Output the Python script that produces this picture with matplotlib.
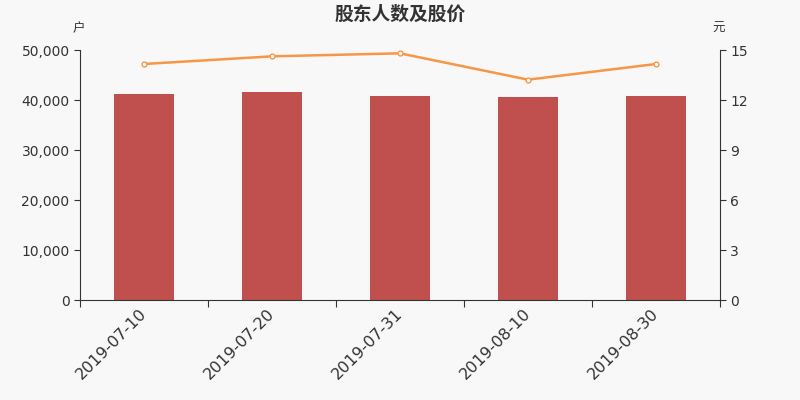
import matplotlib
matplotlib.use("Agg")
import matplotlib.pyplot as plt
import numpy as np

plt.rcParams['font.family'] = ['DejaVu Sans', 'Noto Sans CJK SC']

categories = ["2019-07-10", "2019-07-20", "2019-07-31", "2019-08-10", "2019-08-30"]
holders = [41150, 41550, 40800, 40600, 40800]
prices = [14.16, 14.62, 14.80, 13.22, 14.16]

bg = "#f8f8f8"
fig = plt.figure(figsize=(8, 4), dpi=100, facecolor=bg)
ax = fig.add_axes([0.1, 0.25, 0.8, 0.625], facecolor=bg)
x = np.arange(len(categories))
ax.bar(x, holders, width=0.47, color="#c0504d", zorder=2)
ax.set_xlim(-0.5, len(categories) - 0.5)
ax.set_ylim(0, 50000)
ax.set_yticks(np.arange(0, 50001, 10000))
ax.set_yticklabels([f"{v:,}" for v in range(0, 50001, 10000)], fontsize=10, color="#333333")
ax.set_xticks(np.arange(-0.5, len(categories)), minor=False)
ax.set_xticklabels([])
ax.set_xticks(x, minor=True)
ax.set_xticklabels(categories, minor=True, rotation=45, ha="right", va="center",
                   rotation_mode="anchor", fontsize=11.5, color="#333333")
ax.tick_params(axis="x", which="minor", length=0, pad=8)
ax.tick_params(axis="x", which="major", length=5, color="#333333")
ax.tick_params(axis="y", length=4, color="#333333")
for s in ["top", "right"]:
    ax.spines[s].set_visible(False)
for s in ["left", "bottom"]:
    ax.spines[s].set_color("#333333")

ax2 = ax.twinx()
ax2.plot(x, prices, color="#f79646", linewidth=1.8, marker="o", markersize=3.5,
         markerfacecolor="white", markeredgecolor="#f79646", markeredgewidth=1, zorder=3)
ax2.set_ylim(0, 15)
ax2.set_yticks(np.arange(0, 16, 3))
ax2.set_yticklabels([str(v) for v in range(0, 16, 3)], fontsize=10, color="#333333")
ax2.tick_params(axis="y", length=4, color="#333333")
for s in ["top", "left", "bottom"]:
    ax2.spines[s].set_visible(False)
ax2.spines["right"].set_color("#333333")

fig.text(0.5, 0.965, "股东人数及股价", ha="center", va="center", fontsize=13.5, fontweight="bold",
         color="#333333", family=["Noto Sans CJK SC", "DejaVu Sans"])
fig.text(0.098, 0.928, "户", ha="center", va="center", fontsize=9, color="#333333",
         family=["Noto Sans CJK SC", "DejaVu Sans"])
fig.text(0.898, 0.928, "元", ha="center", va="center", fontsize=9, color="#333333",
         family=["Noto Sans CJK SC", "DejaVu Sans"])

fig.savefig("out.png", dpi=100, facecolor=bg)
